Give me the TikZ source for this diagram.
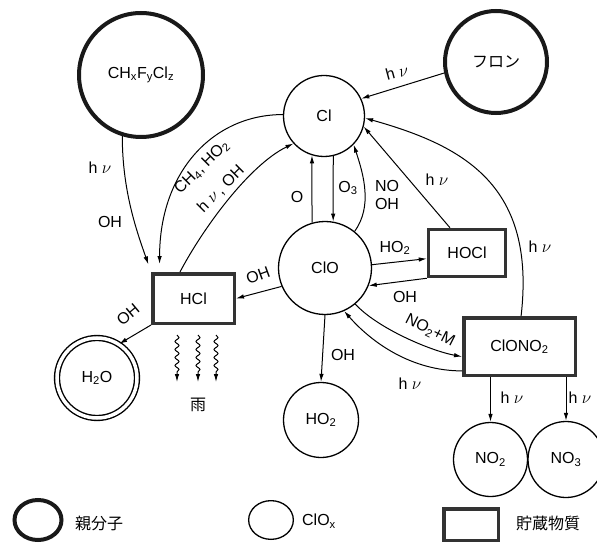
\documentclass[tikz,border=0pt]{standalone}
\usepackage{fontspec}
\setmainfont{Liberation Sans}
\newfontfamily\jpfont{Noto Sans CJK JP}
\usetikzlibrary{arrows.meta, calc, shapes.geometric, decorations.pathmorphing}
\newcommand{\hv}{h\ $\nu$}
\tikzset{
  parent/.style={
    circle, draw=black!90, line width=4pt, inner sep=0pt,
    font=\fontsize{16}{18}\selectfont
  },
  clox/.style={circle, draw, line width=1.3pt, inner sep=0pt, font=\fontsize{16}{18}\selectfont},
  store/.style={rectangle, draw=black!80, line width=3.5pt, inner sep=0pt, font=\fontsize{16}{18}\selectfont},
  rxn/.style={-{Latex[length=8pt,width=4.5pt]}, line width=1pt},
  rain/.style={rxn, decorate,
    decoration={snake, amplitude=2pt, segment length=8pt, post length=8pt}},
  lbl/.style={font=\fontsize{16}{18}\selectfont, inner sep=1pt},
  jplbl/.style={font=\fontsize{16}{18}\selectfont\jpfont, inner sep=1pt},
}
\begin{document}
\begin{tikzpicture}[x=1pt, y=-1pt]
  \useasboundingbox (0,0) rectangle (597,548);

  \node[parent, minimum size=124pt] (cfc) at (141,75)
    {CH\textsubscript{x}F\textsubscript{y}Cl\textsubscript{z}};
  \node[parent, minimum size=102pt] (freon) at (496,62) {\jpfont フロン};
  \node[clox, minimum size=81pt] (cl)  at (324,116) {Cl};
  \node[clox, minimum size=93pt] (clo) at (325,268) {ClO};
  \node[clox, minimum size=75pt] (ho2) at (321,420) {HO\textsubscript{2}};
  \node[clox, minimum size=74pt] (no2) at (490.5,459.5) {NO\textsubscript{2}};
  \node[clox, minimum size=76pt] (no3) at (566,459.5) {NO\textsubscript{3}};
  \node[clox, line width=1.4pt, double, double distance=3.5pt, minimum size=80pt] (h2o)
    at (97,378) {H\textsubscript{2}O};
  \node[store, minimum width=77pt, minimum height=47pt] (hocl) at (467,253) {HOCl};
  \node[store, minimum width=81.5pt, minimum height=49.5pt] (hcl) at (193.5,298.5) {HCl};
  \node[store, minimum width=111.5pt, minimum height=57.5pt] (clono2) at (519.5,346.5)
    {ClONO\textsubscript{2}};

  \draw[rxn, shorten >=8pt] (cfc.253) .. controls +(0,55) and +(-14,-40) .. (hcl.north west);
  \draw[rxn, shorten >=8pt] (cl.178) .. controls +(-70,0) and +(0,-100) .. (hcl.142);
  \draw[rxn] (hcl.117) .. controls +(22,-42) and +(-45,22) .. (cl.222);
  \draw[rxn] (clo.106) -- (cl.253);
  \draw[rxn] (cl.283) -- (clo.80);
  \draw[rxn] (clo.51) .. controls +(18,-25) and +(10,30) .. (cl.316);
  \draw[rxn] (hocl.124) -- (cl.-15);
  \draw[rxn] (freon.192) -- (cl.25);
  \draw[rxn] (clono2.87) .. controls +(15,-130) and +(100,28) .. (cl.-3);
  \draw[rxn] (clo.4) -- (hocl.188);
  \draw[rxn] (hocl.south west) -- (clo.-22);
  \draw[rxn] (clo.203) -- (hcl.east);
  \draw[rxn] (hcl.south west) -- (h2o.57);
  \draw[rxn] (clo.south) -- (ho2.north);
  \draw[rxn] (clo.-50) .. controls +(22,24) and +(-32,-6) .. (clono2.190);
  \draw[rxn] (clono2.203) .. controls +(-50,0) and +(28,32) .. (clo.-66);
  \draw[rxn] (no2.north |- clono2.south) -- (no2.north);
  \draw[rxn] (no3.north |- clono2.south) -- (no3.north);

  \coordinate (rain1a) at (177,335);
  \coordinate (rain1b) at (177,382);
  \coordinate (rain2a) at (198,335);
  \coordinate (rain2b) at (198,382);
  \coordinate (rain3a) at (216,335);
  \coordinate (rain3b) at (216,382);
  \draw[rain] (rain1a) -- (rain1b);
  \draw[rain] (rain2a) -- (rain2b);
  \draw[rain] (rain3a) -- (rain3b);
  \node[jplbl] (rain) at (198,405) {雨};

  \node[lbl] (cfchv) at (100,168) {\hv};
  \node[lbl] (cfcoh) at (110,222) {OH};
  \node[lbl, rotate=45] (ch4) at (202,167) {CH\textsubscript{4}, HO\textsubscript{2}};
  \node[lbl, rotate=45] (hvoh) at (221,189) {\hv\,, OH};
  \node[lbl] (o) at (297,197) {O};
  \node[lbl] (o3) at (348,188) {O\textsubscript{3}};
  \node[lbl, align=center] (nooh) at (387,195) {NO\\OH};
  \node[lbl] (hoclhv) at (437,180) {\hv};
  \node[lbl] (clono2hv) at (540,247) {\hv};
  \node[lbl] (hotwo) at (395,248) {HO\textsubscript{2}};
  \node[lbl] (hocloh) at (405,297) {OH};
  \node[lbl, rotate=20] (hcloh) at (258,275) {OH};
  \node[lbl, rotate=40] (h2ooh) at (128,315) {OH};
  \node[lbl] (ho2oh) at (343,355) {OH};
  \node[lbl, rotate=-27] (no2m) at (430,331) {NO\textsubscript{2}+M};
  \node[lbl] (clohv) at (410,384) {\hv};
  \node[lbl] (no2hv) at (512,398) {\hv};
  \node[lbl] (no3hv) at (580,398) {\hv};
  \node[lbl, rotate=15] (freonhv) at (397,72) {\hv};

  \node[ellipse, draw=black!90, line width=4pt, minimum width=47pt, minimum height=40pt]
    (keyparent) at (38,520) {};
  \node[jplbl] (keyparenttxt) at (99,523) {親分子};
  \node[ellipse, draw, line width=1.3pt, minimum width=44.7pt, minimum height=38.7pt]
    (keyclox) at (271,520) {};
  \node[lbl] (keycloxtxt) at (319,521) {ClO\textsubscript{x}};
  \node[store, minimum width=54.5pt, minimum height=31.5pt] (keystore) at (471,524.5) {};
  \node[jplbl] (keystoretxt) at (548,523) {貯蔵物質};
\end{tikzpicture}
\end{document}
